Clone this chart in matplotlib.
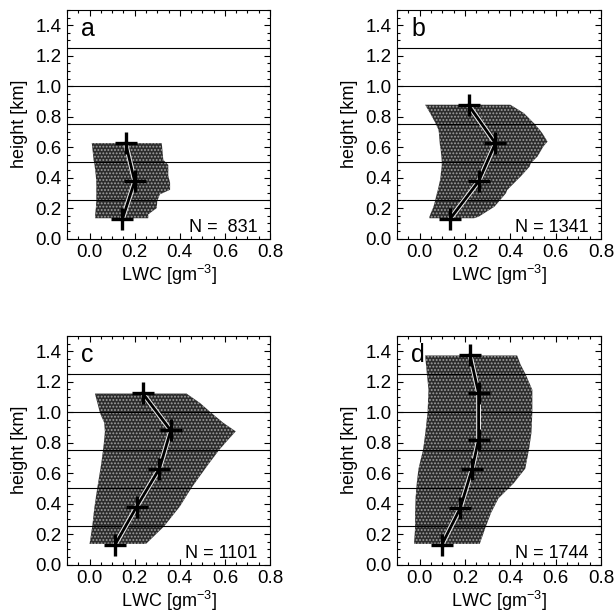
import numpy as np
import matplotlib
matplotlib.use('Agg')
import matplotlib.pyplot as plt
from matplotlib.ticker import MultipleLocator, FormatStrFormatter

plt.rcParams['font.family'] = ['Liberation Sans', 'DejaVu Sans']
plt.rcParams['hatch.linewidth'] = 0.9
plt.rcParams['mathtext.fontset'] = 'custom'
plt.rcParams['mathtext.rm'] = 'Liberation Sans'

# panel labels and sample counts
labels = ['a', 'b', 'c', 'd']
counts = ['N =  831', 'N = 1341', 'N = 1101', 'N = 1744']

# mean LWC profiles (crosses)
mean_h_a = [0.125, 0.375, 0.625]
mean_lwc_a = [0.145, 0.20, 0.16]
mean_h_b = [0.13, 0.375, 0.625, 0.875]
mean_lwc_b = [0.135, 0.26, 0.334, 0.216]
mean_h_c = [0.13, 0.38, 0.63, 0.88, 1.125]
mean_lwc_c = [0.113, 0.209, 0.31, 0.36, 0.235]
mean_h_d = [0.13, 0.37, 0.625, 0.82, 1.125, 1.375]
mean_lwc_d = [0.098, 0.179, 0.231, 0.26, 0.26, 0.222]

# envelope of the scattered samples (left / right edge vs height)
env_h_a = [0.133, 0.158, 0.20, 0.245, 0.29, 0.32, 0.366, 0.41, 0.483, 0.516, 0.626]
env_left_a = [0.025, 0.025, 0.028, 0.03, 0.03, 0.03, 0.03, 0.028, 0.022, 0.018, 0.01]
env_right_a = [0.26, 0.26, 0.298, 0.30, 0.312, 0.357, 0.357, 0.349, 0.349, 0.327, 0.32]

env_h_b = [0.133, 0.143, 0.209, 0.23, 0.296, 0.318, 0.384, 0.406, 0.472, 0.494,
           0.537, 0.592, 0.603, 0.636, 0.691, 0.713, 0.757, 0.823, 0.878]
env_left_b = [0.043, 0.043, 0.061, 0.065, 0.076, 0.08, 0.09, 0.092, 0.097, 0.098,
              0.096, 0.092, 0.09, 0.088, 0.085, 0.083, 0.07, 0.046, 0.024]
env_right_b = [0.24, 0.26, 0.33, 0.342, 0.38, 0.386, 0.43, 0.445, 0.485, 0.49,
               0.519, 0.541, 0.545, 0.564, 0.541, 0.53, 0.504, 0.46, 0.40]

env_h_c = [0.135, 0.25, 0.38, 0.51, 0.644, 0.753, 0.82, 0.874, 0.93, 0.995, 1.06, 1.122]
env_left_c = [0.0, 0.012, 0.022, 0.035, 0.05, 0.06, 0.065, 0.068, 0.065, 0.046, 0.035, 0.024]
env_right_c = [0.25, 0.33, 0.40, 0.455, 0.52, 0.575, 0.615, 0.648, 0.593, 0.54, 0.49, 0.43]

env_h_d = [0.135, 0.242, 0.339, 0.435, 0.532, 0.63, 0.753, 0.863, 1.0, 1.147, 1.25, 1.313, 1.372]
env_left_d = [-0.025, -0.02, -0.02, -0.018, -0.013, -0.005, 0.015, 0.025, 0.035, 0.039, 0.032, 0.028, 0.024]
env_right_d = [0.265, 0.29, 0.315, 0.348, 0.414, 0.466, 0.482, 0.493, 0.497, 0.497, 0.467, 0.445, 0.43]

bin_edges = [0.25, 0.5, 0.75, 1.0, 1.25]

panels = [
    (mean_h_a, mean_lwc_a, env_h_a, env_left_a, env_right_a),
    (mean_h_b, mean_lwc_b, env_h_b, env_left_b, env_right_b),
    (mean_h_c, mean_lwc_c, env_h_c, env_left_c, env_right_c),
    (mean_h_d, mean_lwc_d, env_h_d, env_left_d, env_right_d),
]

W, H = 616, 614
fig = plt.figure(figsize=(W / 100, H / 100), dpi=100)

# axes boxes in pixels: left, top, right, bottom
boxes = [(67, 10, 270, 238.5), (397, 10, 601, 238.5),
         (67, 336, 270, 564.5), (397, 336, 601, 564.5)]

for i, (box, data) in enumerate(zip(boxes, panels)):
    l, t, r, b = box
    ax = fig.add_axes([l / W, 1 - b / H, (r - l) / W, (b - t) / H])
    mh, ml, eh, el, er = data

    # sample cloud
    ax.fill_betweenx(eh, el, er, facecolor='#2c2c2c', edgecolor='#a0a0a0',
                     hatch='.....', linewidth=0, zorder=1)

    for y in bin_edges:
        ax.axhline(y, color='black', lw=0.8, zorder=2)

    # mean profile
    ax.plot(ml, mh, color='#e8e8e8', lw=3.5, zorder=3, solid_capstyle='round')
    ax.plot(ml, mh, color='black', lw=2.0, marker='+', markersize=16,
            markeredgewidth=2.4, zorder=4)

    ax.set_xlim(-0.1, 0.8)
    ax.set_ylim(0, 1.5)
    ax.xaxis.set_major_locator(MultipleLocator(0.2))
    ax.xaxis.set_minor_locator(MultipleLocator(0.05))
    ax.yaxis.set_minor_locator(MultipleLocator(0.05))
    ax.set_yticks(np.arange(0, 1.41, 0.2))
    ax.xaxis.set_major_formatter(FormatStrFormatter('%.1f'))
    ax.yaxis.set_major_formatter(FormatStrFormatter('%.1f'))
    ax.tick_params(which='both', direction='in', top=True, right=True,
                   labelsize=13.5, width=0.8)
    ax.tick_params(which='major', length=4, pad=4)
    ax.tick_params(which='minor', length=2)
    for s in ax.spines.values():
        s.set_linewidth(0.8)

    ax.set_xlabel('LWC [gm$^{-3}$]', fontsize=13, labelpad=1)
    ax.set_ylabel('height [km]', fontsize=13, labelpad=5)

    ax.text(0.07, 0.885, labels[i], transform=ax.transAxes, fontsize=18,
            ha='left', va='baseline')
    ax.text(0.94, 0.03, counts[i], transform=ax.transAxes, fontsize=13,
            ha='right', va='baseline')

fig.savefig('out.png', dpi=100)
